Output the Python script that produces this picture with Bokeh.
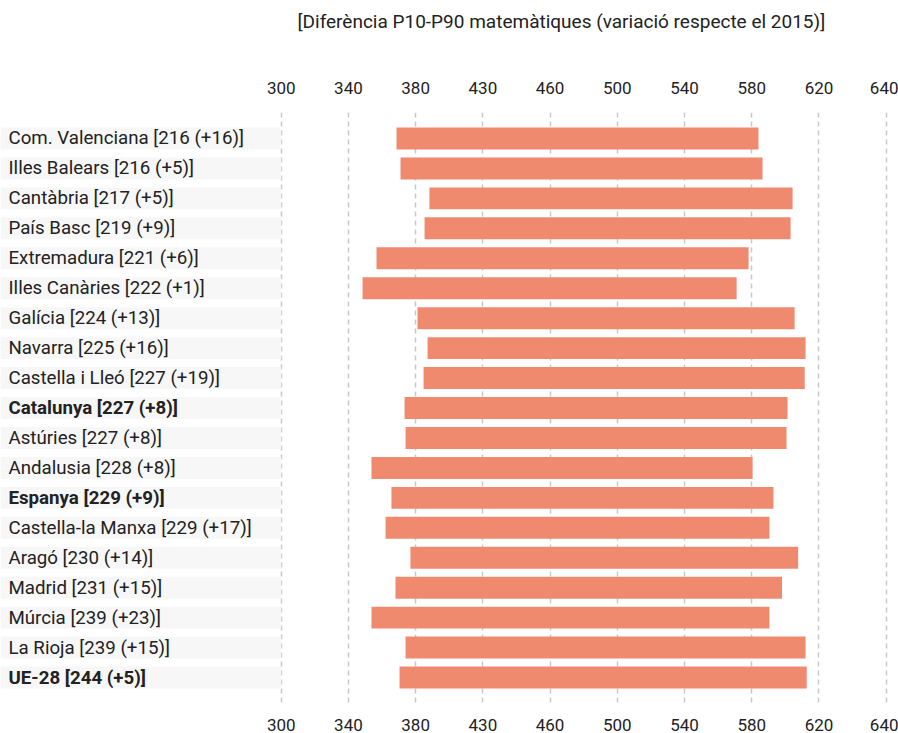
from bokeh.plotting import figure
from bokeh.models import ColumnDataSource, Range1d, LinearAxis, FixedTicker, Title
from bokeh.core.properties import value
from bokeh.embed import file_html
from bokeh.resources import INLINE

# ---- data ----
regions = ["Com. Valenciana", "Illes Balears", "Cantàbria", "País Basc", "Extremadura",
           "Illes Canàries", "Galícia", "Navarra", "Castella i Lleó", "Catalunya",
           "Astúries", "Andalusia", "Espanya", "Castella-la Manxa", "Aragó", "Madrid",
           "Múrcia", "La Rioja", "UE-28"]
diff_p10_p90 = [216, 216, 217, 219, 221, 222, 224, 225, 227, 227, 227, 228, 229, 229, 230, 231, 239, 239, 244]
change_2015 = ["+16", "+5", "+5", "+9", "+6", "+1", "+13", "+16", "+19", "+8", "+8", "+8", "+9",
               "+17", "+14", "+15", "+23", "+15", "+5"]
p10 = [368.6, 371.0, 388.2, 385.3, 356.7, 348.4, 381.1, 387.1, 384.7, 373.4, 374.0, 353.7,
       365.6, 362.1, 376.9, 368.0, 353.7, 374.0, 370.4]
p90 = [584.0, 586.4, 604.3, 603.1, 578.1, 571.0, 605.5, 612.0, 611.5, 601.3, 600.7, 580.5,
       592.9, 590.5, 607.6, 598.0, 590.5, 612.0, 612.7]
highlighted = ["Catalunya", "Espanya", "UE-28"]
tick_values = [300, 340, 380, 420, 460, 500, 540, 580, 620, 660]
tick_labels = ["300", "340", "380", "430", "460", "500", "540", "580", "620", "640"]
title_text = "[Diferència P10-P90 matemàtiques (variació respecte el 2015)]"

X_START, X_END = 132.97, 667.31
BAND_END = 300

n = len(regions)
ys = list(range(n))
labels = [f"{r} [{d} ({c})]" for r, d, c in zip(regions, diff_p10_p90, change_2015)]
weights = ["bold" if r in highlighted else "normal" for r in regions]

src = ColumnDataSource(dict(y=ys, p10=p10, p90=p90, label=labels, weight=weights,
                            band_l=[X_START] * n, band_r=[BAND_END] * n,
                            lx=[X_START] * n))

p = figure(width=898, height=733, output_backend="svg", toolbar_location=None,
           x_range=Range1d(X_START, X_END), y_range=Range1d(18.9, -0.867),
           x_axis_location=None, y_axis_location=None,
           min_border_left=0, min_border_right=0, min_border_top=112, min_border_bottom=28)
p.outline_line_color = None
p.background_fill_color = "white"

ticker = FixedTicker(ticks=tick_values)
overrides = {v: l for v, l in zip(tick_values, tick_labels)}

for loc, standoff in (("above", 13), ("below", 8)):
    ax = LinearAxis(ticker=ticker, major_label_overrides=overrides)
    ax.axis_line_color = None
    ax.major_tick_line_color = None
    ax.minor_tick_line_color = None
    ax.major_label_text_font = "Roboto"
    ax.major_label_text_font_size = "17px"
    ax.major_label_text_color = "#222222"
    ax.major_label_standoff = standoff
    p.add_layout(ax, loc)

p.xgrid.ticker = ticker
p.xgrid.grid_line_color = "#c8c8c8"
p.xgrid.grid_line_dash = "5 4"
p.xgrid.grid_line_width = 1.5
p.ygrid.grid_line_color = None

p.hbar(y="y", left="band_l", right="band_r", height=0.733, source=src,
       fill_color="#f7f7f7", line_color=None)
p.hbar(y="y", left="p10", right="p90", height=0.733, source=src,
       fill_color="#f08a6f", line_color=None)
p.text(x="lx", y="y", text="label", source=src, x_offset=8,
       text_font=value("Roboto"), text_font_size="18.7px", text_font_style="weight",
       text_color="#222222", text_baseline="middle", text_align="left")

# spacer between the top axis and the title, then the title itself
p.add_layout(Title(text=" ", text_font_size="10px", standoff=28), "above")
p.add_layout(Title(text=title_text, align="left", offset=297, standoff=10,
                   text_font="Roboto", text_font_size="19px", text_font_style="normal",
                   text_color="#222222"), "above")

open("out.html", "w").write(file_html(p, INLINE))
